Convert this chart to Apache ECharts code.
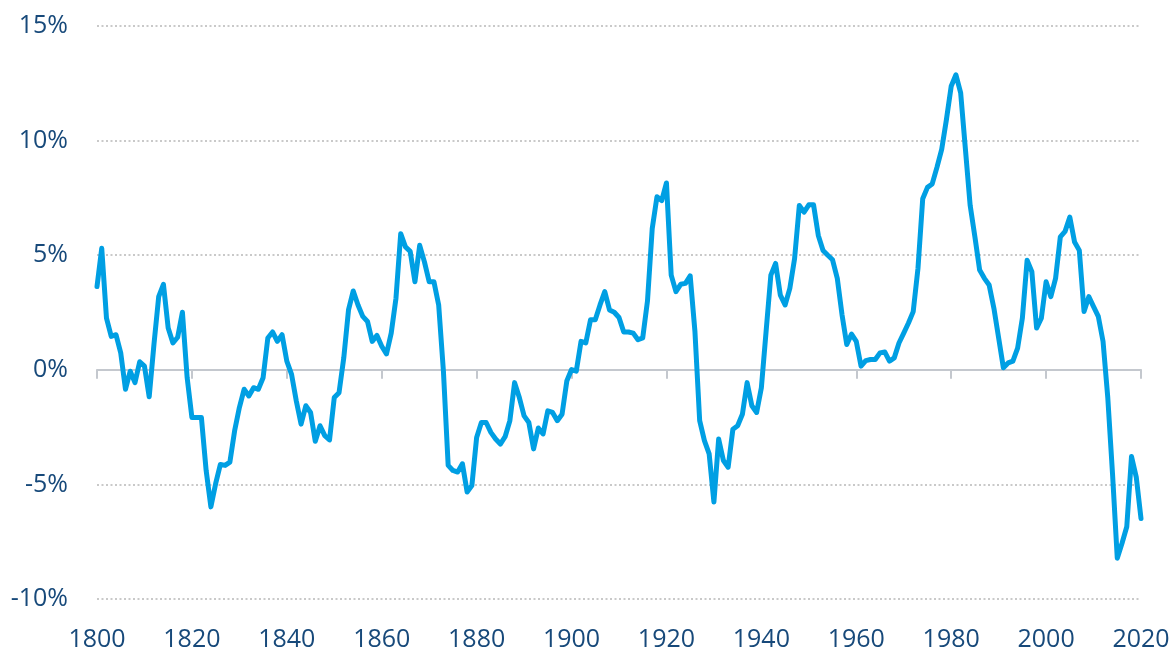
<!DOCTYPE html>
<html>
<head>
<meta charset="utf-8">
<script src="https://cdn.jsdelivr.net/npm/echarts@6/dist/echarts.min.js"></script>
<style>
  html, body { margin: 0; padding: 0; background: #fff; }
  #main { width: 1174px; height: 652px; }
</style>
</head>
<body>
<div id="main"></div>
<script>
// years shown on the x axis and the yearly values (%)
var startYear = 1800;
var xTicks = [1800, 1820, 1840, 1860, 1880, 1900, 1920, 1940, 1960, 1980, 2000, 2020];
var yTicks = [-10, -5, 0, 5, 10, 15];

var values1800s = [
  3.63, 5.3, 2.25, 1.46, 1.53, 0.74, -0.85, -0.06, -0.56, 0.35,
  0.16, -1.18, 1.1, 3.19, 3.73, 1.82, 1.17, 1.42, 2.51, -0.35,
  -2.08, -2.08, -2.08, -4.39, -5.98, -4.97, -4.13, -4.17, -4.03, -2.66,
  -1.65, -0.85, -1.14, -0.78, -0.85, -0.35, 1.39, 1.65, 1.24, 1.53,
  0.38, -0.2, -1.36, -2.37, -1.57, -1.86, -3.12, -2.44, -2.87, -3.06,
  -1.21, -1.0, 0.52, 2.61, 3.44, 2.83, 2.33, 2.11, 1.24, 1.5,
  1.03, 0.69, 1.6, 3.12, 5.94, 5.36, 5.17, 3.84, 5.43, 4.71,
  3.84, 3.84, 2.83, -0.06, -4.17, -4.39, -4.46, -4.1, -5.33, -5.05,
  -2.95, -2.3, -2.3, -2.73, -3.02, -3.24, -2.92, -2.22, -0.56, -1.21,
  -2.01, -2.3, -3.45, -2.54, -2.8, -1.79, -1.86, -2.22, -1.94, -0.49
];
var values1900s = [
  0.01, -0.06, 1.24, 1.17, 2.18, 2.18, 2.83, 3.41, 2.61, 2.51,
  2.28, 1.65, 1.65, 1.6, 1.31, 1.39, 3.0, 6.16, 7.55, 7.38,
  8.15, 4.13, 3.41, 3.73, 3.77, 4.1, 1.68, -2.22, -3.09, -3.67,
  -5.77, -3.02, -3.96, -4.25, -2.59, -2.44, -1.94, -0.56, -1.57, -1.86,
  -0.78, 1.68, 4.13, 4.64, 3.26, 2.83, 3.55, 4.85, 7.17, 6.88,
  7.2, 7.2, 5.86, 5.21, 5.0, 4.8, 3.99, 2.4, 1.1, 1.56,
  1.24, 0.16, 0.4, 0.45, 0.45, 0.74, 0.78, 0.38, 0.52, 1.17,
  1.6, 2.04, 2.54, 4.42, 7.46, 7.96, 8.11, 8.83, 9.62, 10.92,
  12.37, 12.87, 12.08, 9.62, 7.17, 5.8, 4.35, 3.99, 3.7, 2.69,
  1.39, 0.09, 0.3, 0.38, 0.95, 2.25, 4.78, 4.28, 1.82, 2.25
];
var values2000s = [
  3.84, 3.19, 3.99, 5.8, 6.04, 6.66, 5.58, 5.21, 2.54, 3.19,
  2.76, 2.33, 1.24, -1.21, -4.54, -8.22, -7.57, -6.85, -3.78, -4.68,
  -6.49
];

var values = values1800s.concat(values1900s, values2000s);
var seriesData = [];
for (var i = 0; i < values.length; i++) {
  seriesData.push([startYear + i, values[i]]);
}

var labelColor = '#17497a';
var chart = echarts.init(document.getElementById('main'));
var option = {
  animation: false,
  grid: { left: 97, right: 33, top: 26, bottom: 49 },
  xAxis: [
    {
      type: 'value',
      position: 'bottom',
      min: xTicks[0],
      max: xTicks[xTicks.length - 1],
      interval: 20,
      axisLine: { show: false, onZero: false },
      axisTick: { show: false },
      splitLine: { show: false },
      axisLabel: {
        color: labelColor,
        fontFamily: 'Open Sans',
        fontSize: 25,
        margin: 28,
        formatter: function (v) { return String(v); }
      }
    },
    {
      type: 'value',
      position: 'top',
      min: xTicks[0],
      max: xTicks[xTicks.length - 1],
      interval: 20,
      axisLine: { show: true, onZero: true, lineStyle: { color: '#c4c8ce', width: 2 } },
      axisTick: { show: true, inside: true, length: 9, lineStyle: { color: '#c4c8ce', width: 2 } },
      splitLine: { show: false },
      axisLabel: { show: false }
    }
  ],
  yAxis: {
    type: 'value',
    min: yTicks[0],
    max: yTicks[yTicks.length - 1],
    interval: 5,
    axisLine: { show: false },
    axisTick: { show: false },
    axisLabel: {
      formatter: '{value}%',
      color: labelColor,
      fontFamily: 'Open Sans',
      fontSize: 25,
      margin: 29
    },
    splitLine: {
      show: true,
      lineStyle: { color: '#b8b8b8', width: 1.5, type: [2, 2.5] }
    }
  },
  series: [
    {
      type: 'line',
      xAxisIndex: 0,
      data: seriesData,
      showSymbol: false,
      lineStyle: { color: '#009fe3', width: 5, join: 'round', cap: 'round' },
      z: 3
    }
  ]
};
chart.setOption(option);
</script>
</body>
</html>
